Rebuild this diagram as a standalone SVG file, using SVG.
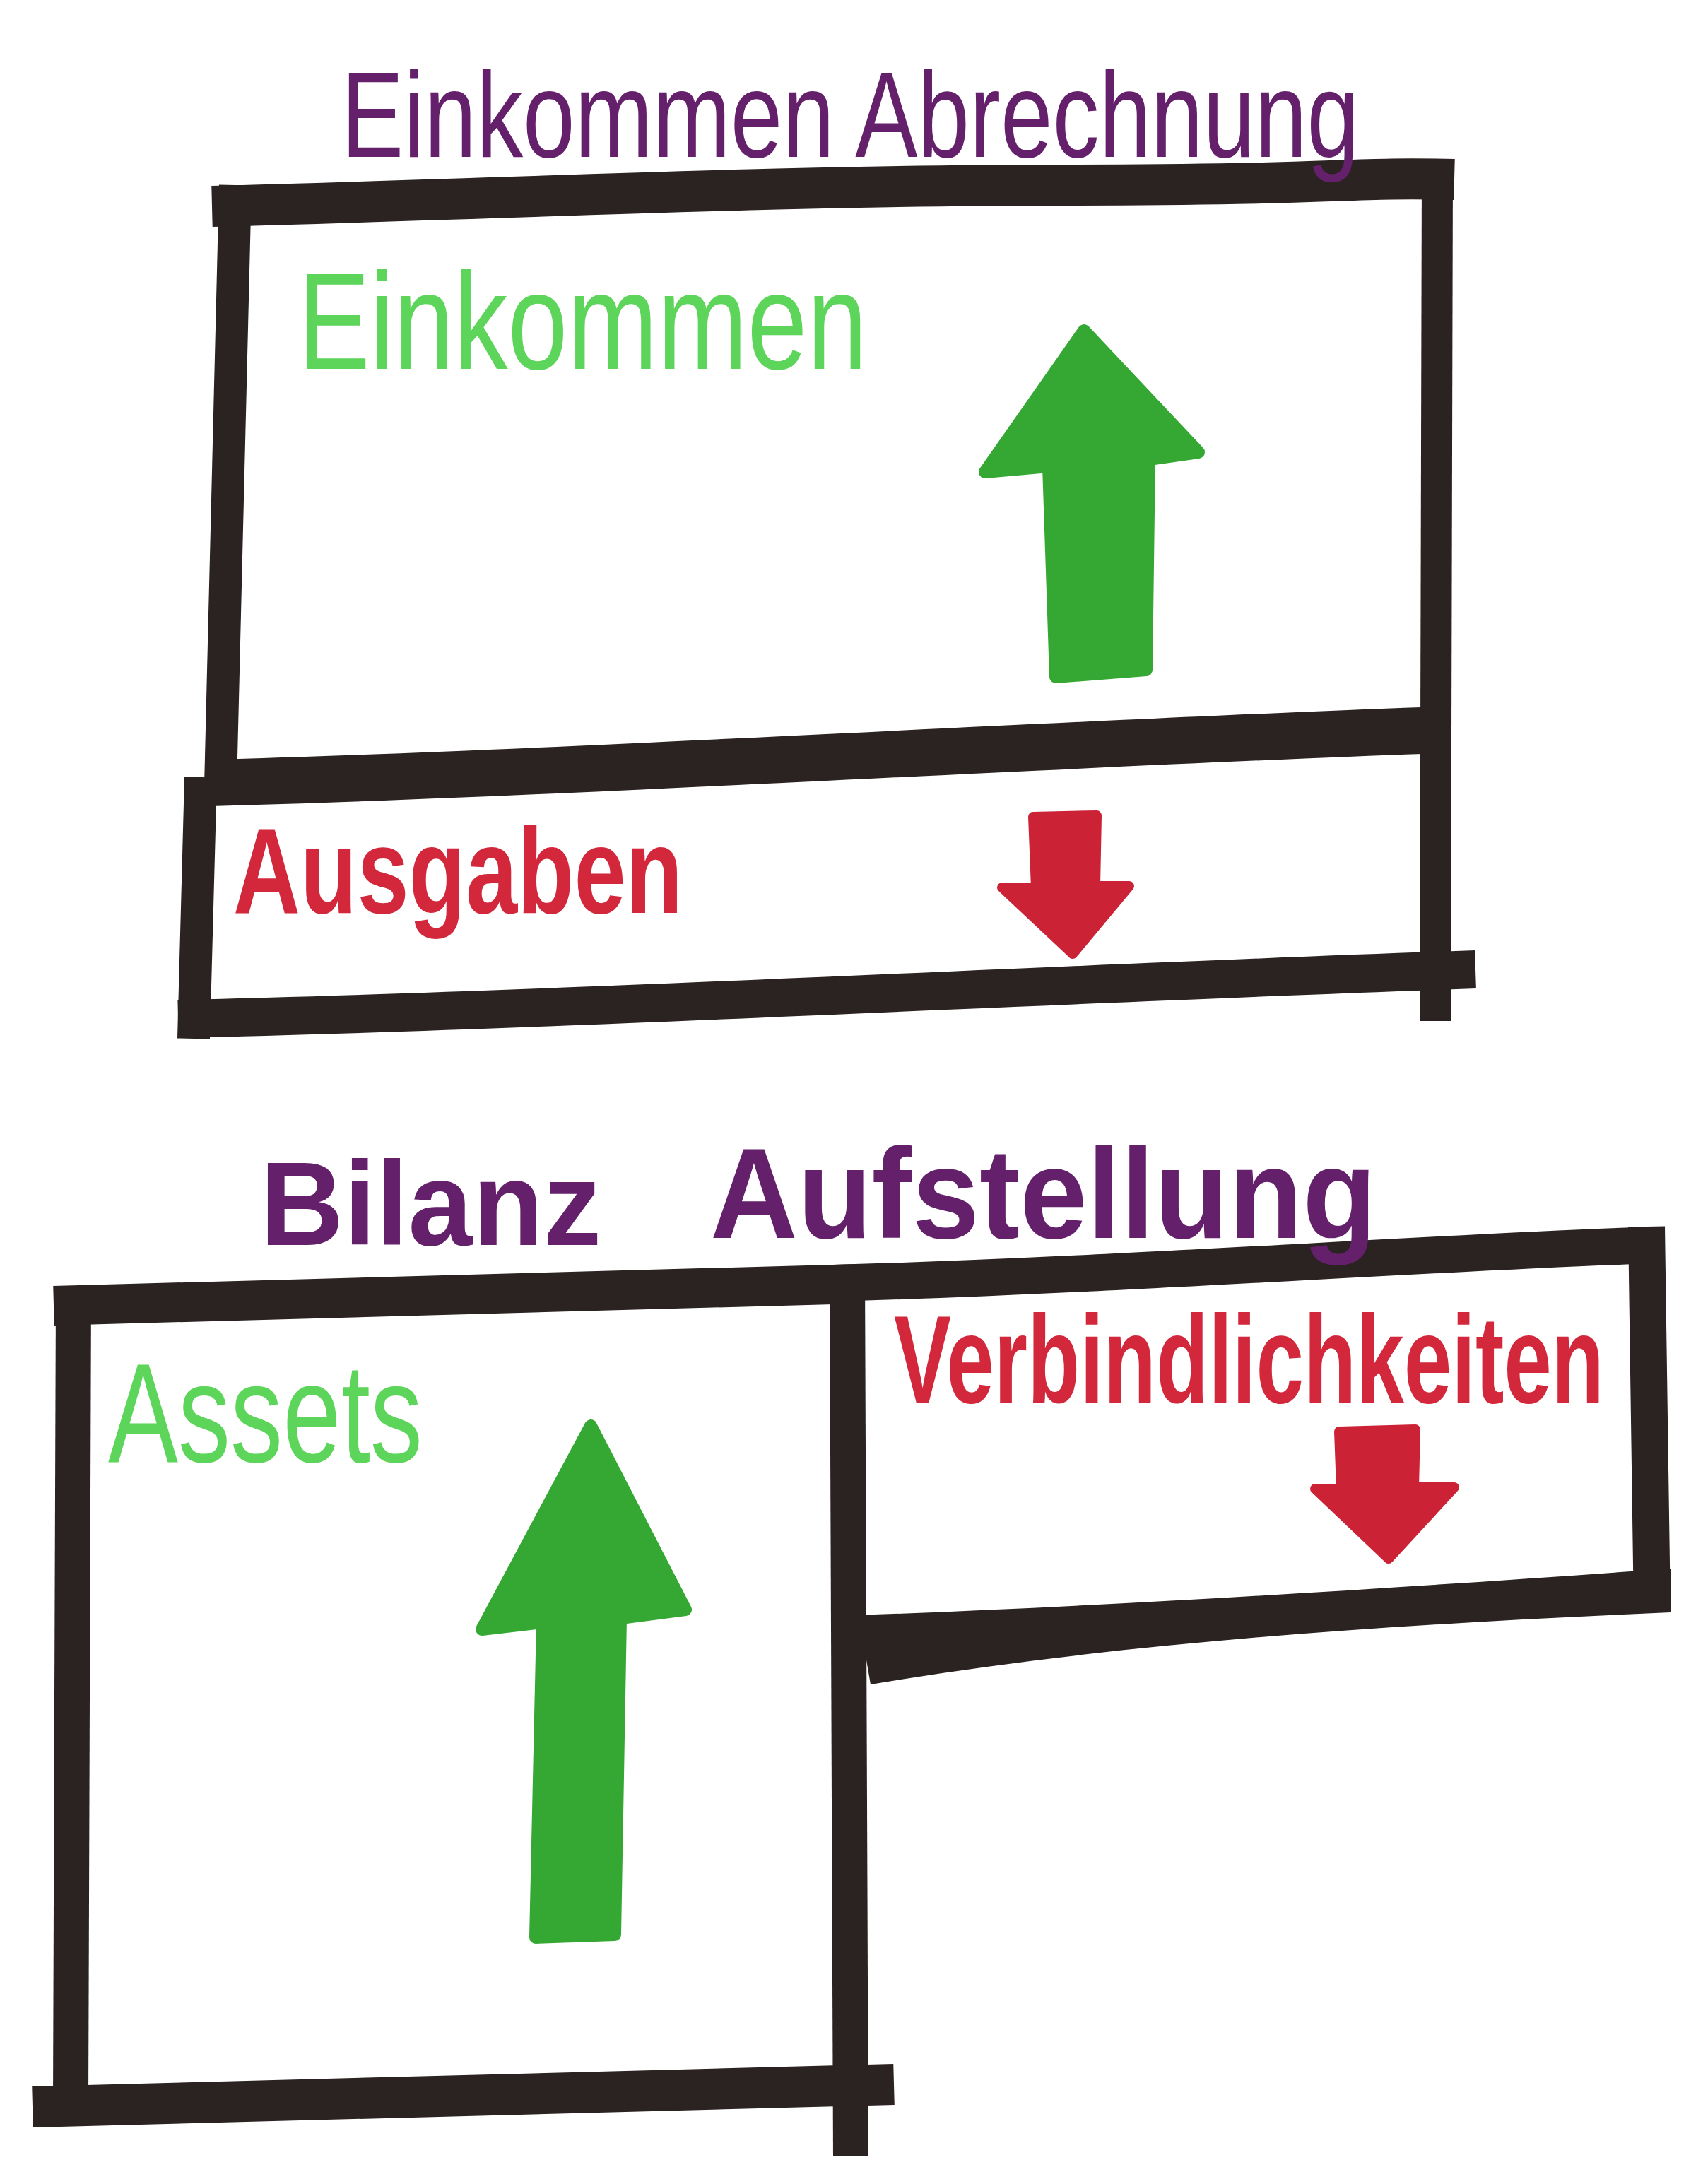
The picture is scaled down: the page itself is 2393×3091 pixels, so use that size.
<svg xmlns="http://www.w3.org/2000/svg" width="2393" height="3091" viewBox="0 0 2393 3091">
  <style>
    .edge { fill: none; stroke: #2a2321; stroke-linecap: butt; stroke-linejoin: round; }
    .band { fill: #2a2321; }
    .txt { font-family: "Liberation Sans", "DejaVu Sans", sans-serif; }
    .purple { fill: #65206c; }
    .green { fill: #5cd55a; }
    .red { fill: #d3283b; font-weight: bold; }
    .upArrow { fill: #35a833; stroke: #35a833; stroke-width: 18; stroke-linejoin: round; }
    .downArrow { fill: #cc2236; stroke: #cc2236; stroke-width: 14; stroke-linejoin: round; }
  </style>
  <rect width="2393" height="3091" fill="#ffffff"/>

  <!-- Income statement -->
  <g id="income-statement">
    <g id="income-box">
      <path class="edge" stroke-width="58" d="M 300 292 C 700 282, 1100 262, 1500 262 S 1900 250, 2058 254"/>
      <path class="edge" stroke-width="46" d="M 333 262 L 312 1112"/>
      <path class="edge" stroke-width="46" d="M 284 1100 L 274 1470"/>
      <path class="edge" stroke-width="44" d="M 2034 232 L 2031 1445"/>
      <path class="edge" stroke-width="66" d="M 298 1108 C 800 1095, 1500 1052, 2012 1034"/>
      <path class="edge" stroke-width="54" d="M 252 1442 C 800 1430, 1500 1392, 2088 1372"/>
    </g>
    <text id="income-statement-title" class="txt purple" x="483" y="222" font-size="172" textLength="1440" lengthAdjust="spacingAndGlyphs">Einkommen Abrechnung</text>
    <g id="income">
      <text class="txt green" x="422" y="522" font-size="195" textLength="805" lengthAdjust="spacingAndGlyphs">Einkommen</text>
      <polygon class="upArrow" points="1534,468 1696,640 1626,650 1622,948 1494,958 1484,660 1394,668"/>
    </g>
    <g id="expenses">
      <text class="txt red" x="330" y="1292" font-size="172" textLength="636" lengthAdjust="spacingAndGlyphs">Ausgaben</text>
      <polygon class="downArrow" points="1462,1156 1552,1154 1550,1254 1598,1254 1518,1350 1418,1256 1466,1256"/>
    </g>
  </g>

  <!-- Balance sheet -->
  <g id="balance-sheet">
    <g id="assets-box">
      <path class="edge" stroke-width="56" d="M 76 1848 C 500 1838, 900 1822, 1215 1817"/>
      <path class="edge" stroke-width="50" d="M 104 1830 L 100 2975"/>
      <path class="edge" stroke-width="58" d="M 46 2982 C 500 2972, 900 2956, 1265 2950"/>
      <path class="edge" stroke-width="50" d="M 1199 1802 L 1204 3052"/>
    </g>
    <g id="liabilities-box">
      <path class="edge" stroke-width="52" d="M 1180 1816 C 1600 1804, 2000 1774, 2342 1762"/>
      <path class="edge" stroke-width="52" d="M 2330 1736 L 2338 2282"/>
      <path class="band" d="M 1215 2286 C 1600 2272, 2000 2246, 2364 2220 L 2364 2282 C 2000 2298, 1600 2322, 1232 2384 Z"/>
    </g>
    <text id="balance-sheet-title-1" class="txt purple" x="368" y="1762" font-size="168" font-weight="bold" textLength="483" lengthAdjust="spacingAndGlyphs">Bilanz</text>
    <text id="balance-sheet-title-2" class="txt purple" x="1005" y="1752" font-size="182" font-weight="bold" textLength="943" lengthAdjust="spacingAndGlyphs">Aufstellung</text>
    <g id="assets">
      <text class="txt green" x="153" y="2069" font-size="200" textLength="445" lengthAdjust="spacingAndGlyphs">Assets</text>
      <polygon class="upArrow" points="836,2018 970,2278 878,2290 870,2738 758,2742 768,2296 682,2306"/>
    </g>
    <g id="liabilities">
      <text class="txt red" transform="translate(1265 1985) scale(1 1.45)" x="0" y="0" font-size="121" textLength="1005" lengthAdjust="spacingAndGlyphs">Verbindlichkeiten</text>
      <polygon class="downArrow" points="1895,2026 2003,2023 2001,2105 2058,2105 1965,2206 1861,2107 1898,2107"/>
    </g>
  </g>

  <g id="connectors"/>
</svg>
